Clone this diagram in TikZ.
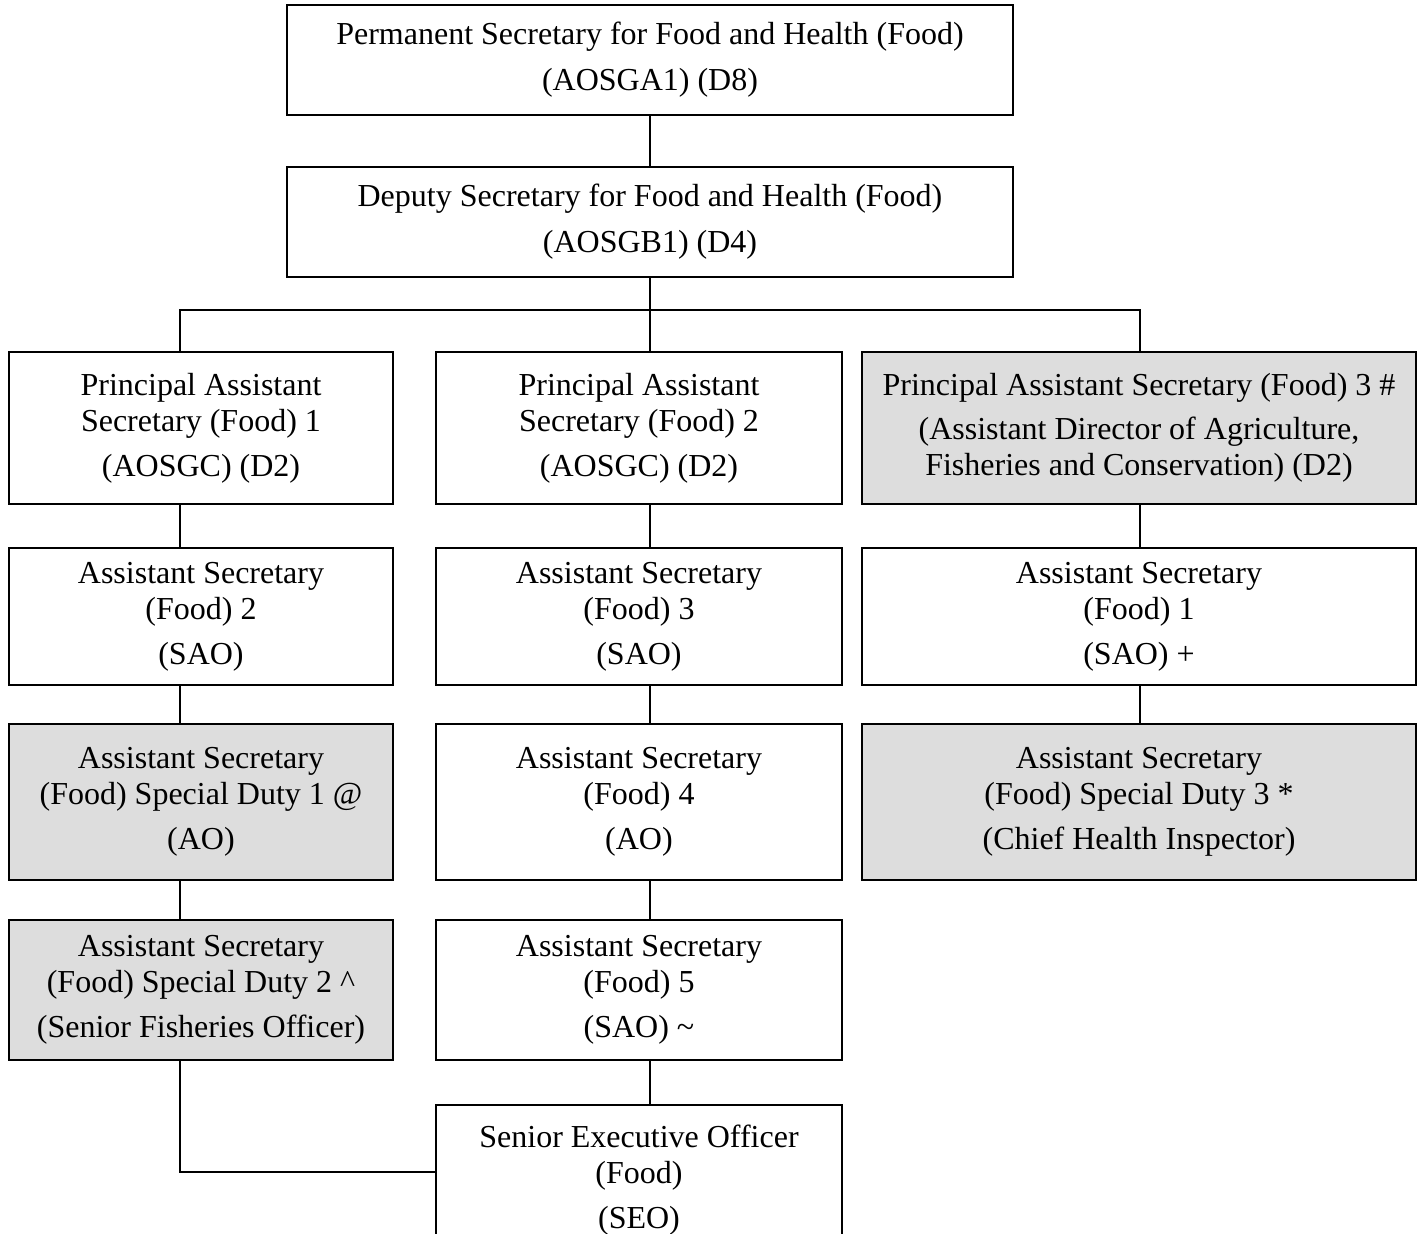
\documentclass[tikz,border=0pt]{standalone}
\usepackage{fontspec}
\setmainfont{Liberation Serif}
\definecolor{boxgray}{HTML}{DDDDDD}
\begin{document}
\begin{tikzpicture}[x=1pt,y=-1pt,
  box/.style={draw, line width=1.6pt, rectangle, inner sep=0pt, align=center, font=\fontsize{32}{36}\selectfont},
  gbox/.style={box, fill=boxgray},
  conn/.style={line width=1.6pt},
  colL/.style={minimum width=384pt},
  colM/.style={minimum width=406pt},
  colR/.style={minimum width=554pt}]
\useasboundingbox (0,0) rectangle (1425,1234);
\clip (0,0) rectangle (1425,1234);

\node[box, minimum width=726pt, minimum height=110pt] (ps) at (650,60) {Permanent Secretary for Food and Health (Food)\\[10pt](AOSGA1) (D8)};
\node[box, minimum width=726pt, minimum height=110pt] (ds) at (650,222) {Deputy Secretary for Food and Health (Food)\\[10pt](AOSGB1) (D4)};

% row 1
\node[box, colL, minimum height=152pt] (p1) at (201,428) {Principal Assistant\\Secretary (Food) 1\\[9pt](AOSGC) (D2)};
\node[box, colM, minimum height=152pt] (p2) at (639,428) {Principal Assistant\\Secretary (Food) 2\\[9pt](AOSGC) (D2)};
\node[gbox, colR, minimum height=152pt] (p3) at (1139,428) {Principal Assistant Secretary (Food) 3 \#\\[8pt](Assistant Director of Agriculture,\\Fisheries and Conservation) (D2)};

% row 2
\node[box, colL, minimum height=137pt] (a2) at (201,616.5) {Assistant Secretary\\(Food) 2\\[9pt](SAO)};
\node[box, colM, minimum height=137pt] (a3) at (639,616.5) {Assistant Secretary\\(Food) 3\\[9pt](SAO)};
\node[box, colR, minimum height=137pt] (a1) at (1139,616.5) {Assistant Secretary\\(Food) 1\\[9pt](SAO) +};

% row 3
\node[gbox, colL, minimum height=156pt] (sd1) at (201,802) {Assistant Secretary\\(Food) Special Duty 1 @\\[9pt](AO)};
\node[box, colM, minimum height=156pt] (a4) at (639,802) {Assistant Secretary\\(Food) 4\\[9pt](AO)};
\node[gbox, colR, minimum height=156pt] (sd3) at (1139,802) {Assistant Secretary\\(Food) Special Duty 3 *\\[9pt](Chief Health Inspector)};

% row 4
\node[gbox, colL, minimum height=140pt] (sd2) at (201,990) {Assistant Secretary\\(Food) Special Duty 2 \textasciicircum\\[9pt](Senior Fisheries Officer)};
\node[box, colM, minimum height=140pt] (a5) at (639,990) {Assistant Secretary\\(Food) 5\\[9pt](SAO) \textasciitilde};

% row 5
\node[box, colM, minimum height=150pt] (seo) at (639,1180) {Senior Executive Officer\\(Food)\\[9pt](SEO)};

% connectors
\coordinate (cL) at (180,0);
\coordinate (cM) at (650,0);
\coordinate (cR) at (1140,0);
\coordinate (bus) at (650,310);
\coordinate (jn) at (180,1172);

\draw[conn] (ps.south) -- (ds.north);
\draw[conn] (ds.south) -- (cM |- p2.north);
\draw[conn] (cL |- p1.north) -- (cL |- bus) -- (cR |- bus) -- (cR |- p3.north);

\draw[conn] (cL |- p1.south) -- (cL |- a2.north);
\draw[conn] (cL |- a2.south) -- (cL |- sd1.north);
\draw[conn] (cL |- sd1.south) -- (cL |- sd2.north);
\draw[conn] (cL |- sd2.south) -- (jn) -- (jn -| seo.west);

\draw[conn] (cM |- p2.south) -- (cM |- a3.north);
\draw[conn] (cM |- a3.south) -- (cM |- a4.north);
\draw[conn] (cM |- a4.south) -- (cM |- a5.north);
\draw[conn] (cM |- a5.south) -- (cM |- seo.north);

\draw[conn] (cR |- p3.south) -- (cR |- a1.north);
\draw[conn] (cR |- a1.south) -- (cR |- sd3.north);
\end{tikzpicture}
\end{document}
